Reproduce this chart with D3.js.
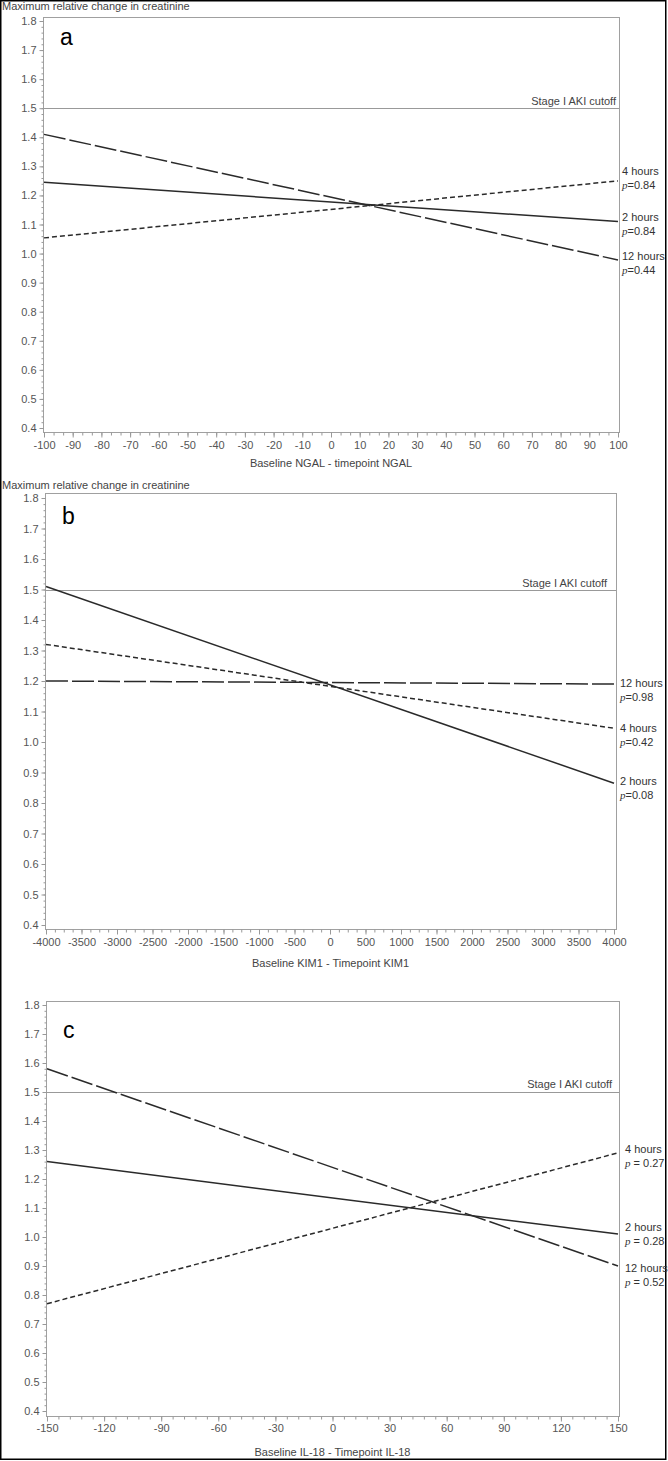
<!DOCTYPE html>
<html>
<head>
<meta charset="utf-8">
<script src="https://cdn.jsdelivr.net/npm/d3@7"></script>
<style>
  body { margin: 0; background: #fff; }
  svg { display: block; font-family: "Liberation Sans", Arial, sans-serif; }
  .tick text { fill: #555; font-size: 11px; }
  .tick line { stroke: #999; }
</style>
</head>
<body>
<svg id="chart" width="668" height="1461"></svg>
<script>
// tick labels
const yTicks = [0.4, 0.5, 0.6, 0.7, 0.8, 0.9, 1.0, 1.1, 1.2, 1.3, 1.4, 1.5, 1.6, 1.7, 1.8];
const ngalTicks = [-100, -90, -80, -70, -60, -50, -40, -30, -20, -10, 0, 10, 20, 30, 40, 50, 60, 70, 80, 90, 100];
const kimTicks = [-4000, -3500, -3000, -2500, -2000, -1500, -1000, -500, 0, 500, 1000, 1500, 2000, 2500, 3000, 3500, 4000];
const il18Ticks = [-150, -120, -90, -60, -30, 0, 30, 60, 90, 120, 150];

const akiCutoff = 1.5;
const yTitle = "Maximum relative change in creatinine";

// fitted lines: value at left end and right end of the x range
const ngal2h = [1.245, 1.11];
const ngal4h = [1.054, 1.25];
const ngal12h = [1.41, 0.978];
const ngalP = { "2 hours": "0.84", "4 hours": "0.84", "12 hours": "0.44" };

const kim2h = [1.51, 0.865];
const kim4h = [1.32, 1.045];
const kim12h = [1.2, 1.19];
const kimP = { "2 hours": "0.08", "4 hours": "0.42", "12 hours": "0.98" };

const il2h = [1.26, 1.01];
const il4h = [0.77, 1.29];
const il12h = [1.58, 0.9];
const ilP = { "2 hours": "0.28", "4 hours": "0.27", "12 hours": "0.52" };

const dashes = { "2 hours": null, "4 hours": "5,3", "12 hours": "22,4" };

const svg = d3.select("#chart");

svg.append("rect")
  .attr("x", 0.75).attr("y", 0.75)
  .attr("width", 665).attr("height", 1458.5)
  .attr("fill", "none").attr("stroke", "#000").attr("stroke-width", 1.5);

const panels = [
  {
    letter: "a", ticks: ngalTicks, minor: 3, xTitle: "Baseline NGAL - timepoint NGAL",
    frame: { l: 43, r: 619, t: 17, b: 432 }, xr: [44, 618], yr: [428, 21],
    showYTitle: true, yTitleY: 10, tickY: 441, xTitleY: 467, letterY: 45,
    stageEnd: 616, stageY: 105, labelX: 622, pSpace: false,
    series: [["2 hours", ngal2h], ["4 hours", ngal4h], ["12 hours", ngal12h]],
    p: ngalP, nudge: { "4 hours": -6, "2 hours": -1, "12 hours": 0 }
  },
  {
    letter: "b", ticks: kimTicks, minor: 4, xTitle: "Baseline KIM1 - Timepoint KIM1",
    frame: { l: 45, r: 616, t: 493, b: 929 }, xr: [46, 614], yr: [925, 498],
    showYTitle: true, yTitleY: 489, tickY: 938, xTitleY: 967, letterY: 524,
    stageEnd: 607, stageY: 587, labelX: 620, pSpace: false,
    series: [["2 hours", kim2h], ["4 hours", kim4h], ["12 hours", kim12h]],
    p: kimP, nudge: { "4 hours": 4, "2 hours": 2, "12 hours": 3 }
  },
  {
    letter: "c", ticks: il18Ticks, minor: 5, xTitle: "Baseline IL-18 - Timepoint IL-18",
    frame: { l: 46, r: 619, t: 1001, b: 1416 }, xr: [47, 618], yr: [1411, 1005],
    showYTitle: false, tickY: 1424, xTitleY: 1456, letterY: 1038,
    stageEnd: 612, stageY: 1088, labelX: 625, pSpace: true,
    series: [["2 hours", il2h], ["4 hours", il4h], ["12 hours", il12h]],
    p: ilP, nudge: { "4 hours": 0, "2 hours": -3, "12 hours": 6 }
  }
];

panels.forEach(drawPanel);

function drawPanel(cfg) {
  const xDom = d3.extent(cfg.ticks);
  const x = d3.scaleLinear().domain(xDom).range(cfg.xr);
  const y = d3.scaleLinear().domain([0.4, 1.8]).range(cfg.yr);
  const f = cfg.frame;

  const g = svg.append("g");

  if (cfg.showYTitle) {
    g.append("text")
      .attr("x", 2).attr("y", cfg.yTitleY)
      .attr("font-size", 11).attr("fill", "#444")
      .text(yTitle);
  }

  // frame
  g.append("rect")
    .attr("x", f.l + 0.5).attr("y", f.t + 0.5)
    .attr("width", f.r - f.l).attr("height", f.b - f.t)
    .attr("fill", "none").attr("stroke", "#a0a0a0");

  // y axis (major + minor)
  const yMinor = d3.range(0.4, 1.8001, 0.02).map(v => +v.toFixed(2));
  g.append("g")
    .attr("transform", `translate(${f.l + 0.5},0)`)
    .call(d3.axisLeft(y).tickValues(yMinor).tickSize(2).tickFormat(""))
    .call(s => s.select(".domain").remove());
  g.append("g")
    .attr("transform", `translate(${f.l + 0.5},0)`)
    .call(d3.axisLeft(y).tickValues(yTicks).tickSize(4).tickPadding(3).tickFormat(d3.format(".1f")))
    .call(s => s.select(".domain").remove());

  // x axis (major + minor)
  const step = cfg.ticks[1] - cfg.ticks[0];
  const xMinor = d3.range(xDom[0], xDom[1] + step / 100, step / cfg.minor);
  g.append("g")
    .attr("transform", `translate(0,${f.b + 0.5})`)
    .call(d3.axisBottom(x).tickValues(xMinor).tickSize(3).tickFormat(""))
    .call(s => s.select(".domain").remove());
  g.append("g")
    .attr("transform", `translate(0,${f.b + 0.5})`)
    .call(d3.axisBottom(x).tickValues(cfg.ticks).tickSize(5)
      .tickPadding(cfg.tickY - f.b - 5).tickFormat(d => String(d)))
    .call(s => s.select(".domain").remove());

  g.append("text")
    .attr("x", (f.l + f.r) / 2).attr("y", cfg.xTitleY)
    .attr("text-anchor", "middle")
    .attr("font-size", 11).attr("fill", "#444")
    .text(cfg.xTitle);

  // panel letter
  g.append("text")
    .attr("x", f.l + 17).attr("y", cfg.letterY)
    .attr("font-size", 23).attr("fill", "#000")
    .text(cfg.letter);

  // AKI cutoff
  g.append("line")
    .attr("x1", f.l).attr("x2", f.r)
    .attr("y1", Math.round(y(akiCutoff)) + 0.5).attr("y2", Math.round(y(akiCutoff)) + 0.5)
    .attr("stroke", "#999");
  g.append("text")
    .attr("x", cfg.stageEnd).attr("y", cfg.stageY)
    .attr("text-anchor", "end")
    .attr("font-size", 11).attr("fill", "#444")
    .text("Stage I AKI cutoff");

  const line = d3.line().x(d => x(d[0])).y(d => y(d[1]));

  cfg.series.forEach(([name, ends]) => {
    const pts = [[xDom[0], ends[0]], [xDom[1], ends[1]]];
    g.append("path")
      .attr("d", line(pts))
      .attr("fill", "none")
      .attr("stroke", "#2a2a2a")
      .attr("stroke-width", 1.5)
      .attr("stroke-dasharray", dashes[name]);

    const ly = y(ends[1]) + cfg.nudge[name];
    g.append("text")
      .attr("x", cfg.labelX).attr("y", ly)
      .attr("font-size", 11).attr("fill", "#333")
      .text(name);
    const pt = g.append("text")
      .attr("x", cfg.labelX).attr("y", ly + 14)
      .attr("font-size", 11).attr("fill", "#333");
    pt.append("tspan")
      .attr("font-style", "italic")
      .attr("font-family", "'Liberation Serif', serif")
      .text("p");
    pt.append("tspan").text((cfg.pSpace ? " = " : "=") + cfg.p[name]);
  });
}
</script>
</body>
</html>
